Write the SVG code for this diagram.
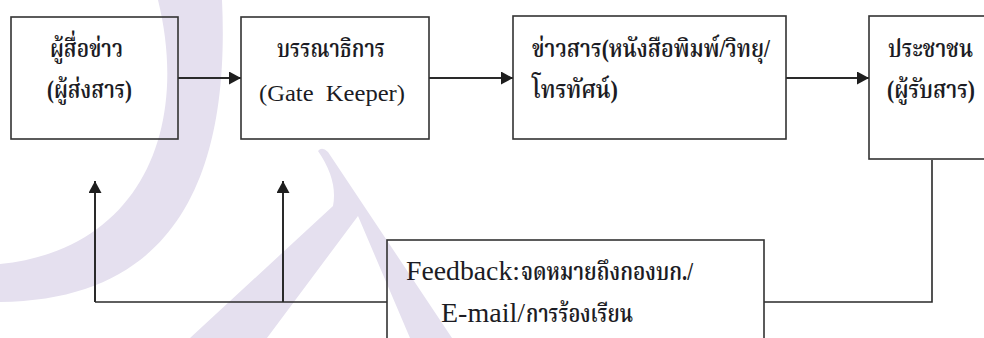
<svg xmlns="http://www.w3.org/2000/svg" width="984" height="338" viewBox="0 0 984 338">
  <style>
    .box { fill: none; stroke: #333; stroke-width: 1.6; }
    .txt { fill: #1c1c24; font-family: "Liberation Serif", "Noto Serif Thai", "Noto Sans Thai", "Noto Sans CJK SC", serif; }
    .th { font-weight: 600; }
    .conn { fill: none; stroke: #2a2a2a; stroke-width: 1.6; }
    .arr { fill: none; stroke: #2a2a2a; stroke-width: 2; }
    .wm { fill: #e5e0ef; }
  </style>
  <defs>
    <marker id="ah" markerUnits="userSpaceOnUse" markerWidth="13" markerHeight="13" refX="12" refY="6.5" orient="auto">
      <path d="M0,0 L12,6.5 L0,13 Z" fill="#1e1e1e"/>
    </marker>
  </defs>
  <rect width="984" height="338" fill="#ffffff"/>
  <g id="watermark">
    <path class="wm" d="M158,0 L222,0 C230,170 180,300 0,302 L0,264 C140,250 190,130 158,0 Z"/>
    <path class="wm" d="M318,151 Q322,146 328,152 L452,338 L410,338 L358,216 L267,338 L190,338 L333,206 Q338,180 318,151 Z"/>
  </g>
  <g id="connectors">
    <line class="arr" x1="178" y1="78" x2="241" y2="78" marker-end="url(#ah)"/>
    <line class="arr" x1="429" y1="78" x2="513" y2="78" marker-end="url(#ah)"/>
    <line class="arr" x1="786" y1="78" x2="869" y2="78" marker-end="url(#ah)"/>
    <polyline class="conn" points="932,160 932,302 764,302"/>
    <line class="conn" x1="387" y1="302" x2="95" y2="302"/>
    <line class="arr" x1="95" y1="302" x2="95" y2="181" marker-end="url(#ah)"/>
    <line class="arr" x1="283" y1="302" x2="283" y2="181" marker-end="url(#ah)"/>
  </g>
  <g id="node-sender">
    <rect class="box" x="11" y="17" width="167" height="122"/>
    <text class="txt th" x="50" y="57" font-size="25" textLength="73" lengthAdjust="spacingAndGlyphs">ผู้สื่อข่าว</text>
    <text class="txt th" x="47" y="98" font-size="25" textLength="85" lengthAdjust="spacingAndGlyphs">(ผู้ส่งสาร)</text>
  </g>
  <g id="node-editor">
    <rect class="box" x="241" y="17" width="188" height="122"/>
    <text class="txt th" x="277" y="57" font-size="25" textLength="108" lengthAdjust="spacingAndGlyphs">บรรณาธิการ</text>
    <text class="txt" x="259" y="101" font-size="24" textLength="146" lengthAdjust="spacingAndGlyphs" xml:space="preserve">(Gate  Keeper)</text>
  </g>
  <g id="node-news">
    <rect class="box" x="513" y="16" width="273" height="123"/>
    <text class="txt th" x="532" y="57" font-size="25" textLength="238" lengthAdjust="spacingAndGlyphs">ข่าวสาร(หนังสือพิมพ์/วิทยุ/</text>
    <text class="txt th" x="532" y="98" font-size="25" textLength="86" lengthAdjust="spacingAndGlyphs">โทรทัศน์)</text>
  </g>
  <g id="node-public">
    <rect class="box" x="869" y="16" width="140" height="143"/>
    <text class="txt th" x="888" y="57" font-size="25" textLength="85" lengthAdjust="spacingAndGlyphs">ประชาชน</text>
    <text class="txt th" x="887" y="98" font-size="25" textLength="88" lengthAdjust="spacingAndGlyphs">(ผู้รับสาร)</text>
  </g>
  <g id="node-feedback">
    <rect class="box" x="387" y="240" width="377" height="120"/>
    <text class="txt" x="406" y="280" font-size="27" textLength="114" lengthAdjust="spacingAndGlyphs">Feedback:</text>
    <text class="txt th" x="521" y="280" font-size="25" textLength="172" lengthAdjust="spacingAndGlyphs">จดหมายถึงกองบก./</text>
    <text class="txt" x="441" y="322" font-size="27" textLength="84" lengthAdjust="spacingAndGlyphs">E-mail/</text>
    <text class="txt th" x="526" y="322" font-size="25" textLength="107" lengthAdjust="spacingAndGlyphs">การร้องเรียน</text>
  </g>
</svg>
